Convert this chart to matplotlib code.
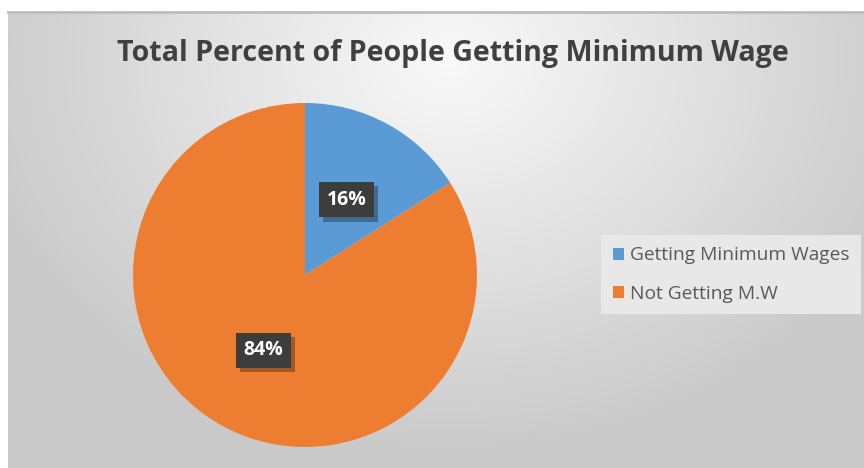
import numpy as np
import matplotlib
matplotlib.use("Agg")
import matplotlib.pyplot as plt
import matplotlib.patheffects as pe

# datos del grafico
etiquetas = ['Getting Minimum Wages', 'Not Getting M.W']
valores = [16, 84]
colores = ['#5B9BD5', '#ED7D31']
titulo = 'Total Percent of People Getting Minimum Wage'

plt.rcParams['font.family'] = ['Open Sans', 'DejaVu Sans']

W, H = 864, 468
fig = plt.figure(figsize=(W / 100, H / 100), dpi=100)
fig.patch.set_facecolor('white')

# fondo con degradado radial
fondo = fig.add_axes([8 / W, 0, (W - 8) / W, (H - 12) / H])
yy, xx = np.mgrid[12:H, 8:W]
d = np.sqrt(((xx - 450) / 500.0) ** 2 + ((yy - 60) / 400.0) ** 2)
d = np.clip(d, 0, 1)
gris = 249 - (249 - 201) * d
img = np.dstack([gris, gris, gris]) / 255.0
fondo.imshow(img, aspect='auto', extent=[0, 1, 0, 1], interpolation='bilinear')
fondo.plot([0, 1], [1, 1], color='#bdbdbd', lw=2, transform=fondo.transAxes, clip_on=False)
fondo.set_xlim(0, 1)
fondo.set_ylim(0, 1)
fondo.axis('off')

# pastel
cx, cy, r = 305, 275, 172
ax = fig.add_axes([(cx - r) / W, (H - cy - r) / H, 2 * r / W, 2 * r / H])
ax.patch.set_alpha(0)
wedges, textos, autotextos = ax.pie(valores, colors=colores, startangle=90, counterclock=False,
                                    autopct='%.0f%%', pctdistance=0.5, radius=1,
                                    wedgeprops=dict(linewidth=0))
ax.set_xlim(-1, 1)
ax.set_ylim(-1, 1)
for t in autotextos:
    t.set_color('white')
    t.set_fontsize(14)
    t.set_fontweight('bold')
    t.set_bbox(dict(boxstyle='square,pad=0.4', fc='#3d3d3d', ec='none'))
    t.get_bbox_patch().set_path_effects([pe.SimplePatchShadow(offset=(3, -3), shadow_rgbFace='black', alpha=0.3),
                                         pe.Normal()])

fig.text(0.524, 1 - 53 / H, titulo, ha='center', va='center', fontsize=20.6,
         fontweight='bold', color='#404040')

leg = fig.legend(wedges, etiquetas, loc='upper left', bbox_to_anchor=(601 / W, 1 - 235 / H),
                 bbox_transform=fig.transFigure, borderaxespad=0, frameon=True,
                 fontsize=13.8, handlelength=0.6, handleheight=0.6, handletextpad=0.3,
                 labelspacing=1.05, borderpad=0.6, fancybox=False)
leg.get_frame().set_facecolor('#e8e8e8')
leg.get_frame().set_edgecolor('none')
leg.get_frame().set_alpha(1)
for t in leg.get_texts():
    t.set_color('#595959')

fig.savefig('out.png', dpi=100)
